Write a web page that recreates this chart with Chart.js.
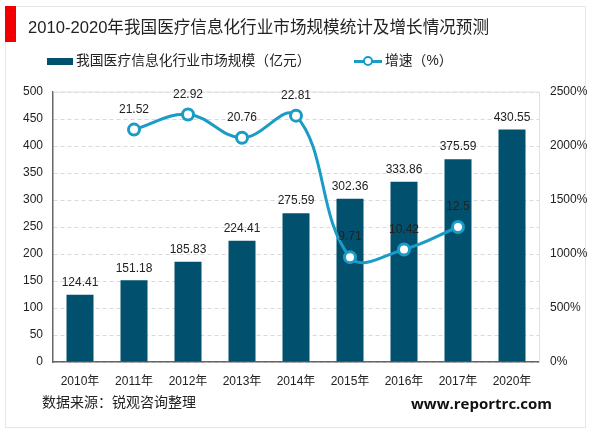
<!DOCTYPE html>
<html>
<head>
<meta charset="utf-8">
<script src="https://cdn.jsdelivr.net/npm/chart.js@4"></script>
<style>
  html, body { margin: 0; padding: 0; background: #fff; }
  body { width: 600px; height: 433px; position: relative; overflow: hidden; font-family: "Liberation Sans", "Noto Sans CJK SC", sans-serif; }
  #wrap { position: absolute; left: 0; top: 0; width: 600px; height: 433px; }
  .frame { position: absolute; left: 5px; top: 6px; width: 581px; height: 422px; border: 1px solid #e6e6e6; box-sizing: border-box; }
  .flag { position: absolute; left: 5px; top: 6px; width: 11px; height: 36px; background: #f00000; }
  .txt { position: absolute; white-space: nowrap; color: #222; line-height: 18px; }
  .swatch { position: absolute; left: 47px; top: 58px; width: 26px; height: 7px; background: #00506e; }
  .lg-line { position: absolute; left: 354px; top: 60px; width: 28px; height: 3px; background: #1a9cc7; }
  .lg-dot { position: absolute; left: 363px; top: 56px; width: 6px; height: 6px; background: #fff; border: 2px solid #1a9cc7; border-radius: 50%; }
</style>
</head>
<body>
<div class="frame"></div>
<div class="flag"></div>
<div id="wrap"><canvas id="c" width="600" height="433"></canvas></div>
<div class="txt" style="left:28px;top:19px;font-size:16.6px;">2010-2020年我国医疗信息化行业市场规模统计及增长情况预测</div>
<div class="swatch"></div>
<div class="txt" style="left:76px;top:52px;font-size:13.8px;">我国医疗信息化行业市场规模（亿元）</div>
<div class="lg-line"></div>
<div class="lg-dot"></div>
<div class="txt" style="left:385px;top:52px;font-size:13.8px;">增速（%）</div>
<div class="txt" style="left:42px;top:393px;font-size:14px;">数据来源：锐观咨询整理</div>
<div class="txt" style="left:411px;top:394px;font-size:15px;font-weight:bold;color:#111;font-family:'Open Sans','Liberation Sans',sans-serif;">www.reportrc.com</div>
<script>
const categories = ['2010年', '2011年', '2012年', '2013年', '2014年', '2015年', '2016年', '2017年', '2020年'];
const marketSize = [124.41, 151.18, 185.83, 224.41, 275.59, 302.36, 333.86, 375.59, 430.55];
const growth = [null, 21.52, 22.92, 20.76, 22.81, 9.71, 10.42, 12.5, null];
const FONT = '"Liberation Sans", "Noto Sans CJK SC", sans-serif';

// values sit above each mark, written with the chart's own element positions
const valueLabels = {
  id: 'valueLabels',
  afterDatasetsDraw(chart) {
    const ctx = chart.ctx;
    ctx.save();
    ctx.font = '12px ' + FONT;
    ctx.fillStyle = '#222';
    ctx.textAlign = 'center';
    ctx.textBaseline = 'bottom';
    chart.data.datasets.forEach((ds, i) => {
      chart.getDatasetMeta(i).data.forEach((el, j) => {
        if (ds.data[j] == null) return;
        const gap = ds.type === 'line' ? 14 : 6;
        ctx.fillText(String(ds.data[j]), el.x, el.y - gap);
      });
    });
    ctx.restore();
  }
};

// the top gridline is solid in the reference, the others dashed
const topLine = {
  id: 'topLine',
  beforeDatasetsDraw(chart) {
    const { ctx, chartArea: a } = chart;
    ctx.save();
    ctx.strokeStyle = '#e0e0e0';
    ctx.lineWidth = 1;
    ctx.beginPath();
    ctx.moveTo(a.left, a.top);
    ctx.lineTo(a.right, a.top);
    ctx.stroke();
    ctx.restore();
  }
};

new Chart(document.getElementById('c').getContext('2d'), {
  data: {
    labels: categories,
    datasets: [
      {
        type: 'line', label: '增速（%）', data: growth, yAxisID: 'y2', order: 1,
        borderColor: '#1a9cc7', borderWidth: 3, tension: 0.4,
        pointRadius: 5.5, pointBorderWidth: 3, pointBackgroundColor: '#fff', pointBorderColor: '#1a9cc7'
      },
      {
        type: 'bar', label: '我国医疗信息化行业市场规模（亿元）', data: marketSize, yAxisID: 'y', order: 2,
        backgroundColor: '#00506e', categoryPercentage: 0.5, barPercentage: 1
      }
    ]
  },
  options: {
    responsive: false,
    animation: false,
    layout: { padding: { top: 92, left: 0, right: 0, bottom: 0 } },
    plugins: { legend: { display: false }, tooltip: { enabled: false } },
    scales: {
      x: {
        grid: { display: false },
        border: { color: '#666', width: 1.5 },
        ticks: { color: '#222', font: { size: 12, family: FONT }, padding: 4, maxRotation: 0 },
        afterFit(s) { s.height = 71; }
      },
      y: {
        min: 0, max: 500,
        ticks: { stepSize: 50, color: '#222', font: { size: 12, family: FONT }, padding: 10 },
        grid: { color: '#d9d9d9', drawTicks: false },
        border: { color: '#666', width: 1.5, dash: [4, 3] },
        afterFit(s) { s.width = 53; }
      },
      y2: {
        position: 'right', min: 0, max: 25,
        ticks: { stepSize: 5, color: '#222', font: { size: 12, family: FONT }, padding: 11, callback: v => (v * 100) + '%' },
        grid: { display: false, drawTicks: false },
        border: { color: '#e0e0e0', width: 1 },
        afterFit(s) { s.width = 61; }
      }
    }
  },
  plugins: [valueLabels, topLine]
});
</script>
</body>
</html>
